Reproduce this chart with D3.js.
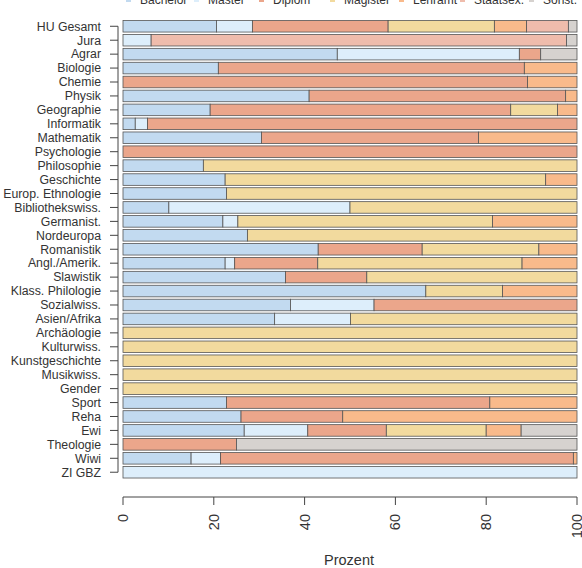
<!DOCTYPE html>
<html><head><meta charset="utf-8">
<script src="https://cdn.jsdelivr.net/npm/d3@7"></script>
<style>body{margin:0;background:#fff}svg{display:block}text{font-family:"Liberation Sans",Arial,sans-serif}</style>
</head><body><svg id="c" width="582" height="568"></svg>
<script>
const categories = ["HU Gesamt","Jura","Agrar","Biologie","Chemie","Physik","Geographie","Informatik","Mathematik","Psychologie","Philosophie","Geschichte","Europ. Ethnologie","Bibliothekswiss.","Germanist.","Nordeuropa","Romanistik","Angl./Amerik.","Slawistik","Klass. Philologie","Sozialwiss.","Asien/Afrika","Archäologie","Kulturwiss.","Kunstgeschichte","Musikwiss.","Gender","Sport","Reha","Ewi","Theologie","Wiwi","ZI GBZ"];
const seriesNames = ["Bachelor","Master","Diplom","Magister","Lehramt","Staatsex.","Sonst."];
const colors = ["#c2daf0","#ddeefb","#eba68b","#f2da9e","#f9ba8b","#efbcac","#d6d2cf"];
const bachelor = [20.6,0,47.2,21.0,0,41.0,19.2,2.7,30.5,0,17.7,22.5,22.8,10.1,22.0,27.4,43.0,22.5,35.8,66.7,36.9,33.4,0,0,0,0,0,22.8,26.0,26.7,0,15.0,0];
const master =   [7.9,6.2,40.1,0,0,0,0,2.7,0,0,0,0,0,39.9,3.3,0,0,2.1,0,0,18.4,16.7,0,0,0,0,0,0,0,14.0,0,6.5,100];
const diplom =   [29.9,0,4.7,67.4,89.1,56.5,66.2,94.6,47.8,100,0,0,0,0,0,0,22.9,18.3,17.9,0,44.7,0,0,0,0,0,0,58.0,22.4,17.3,25.0,77.7,0];
const magister = [23.4,0,0,0,0,0,10.3,0,0,0,82.3,70.6,77.2,50.0,56.1,72.6,25.7,45.0,46.3,16.9,0,49.9,100,100,100,100,100,0,0,22.0,0,0,0];
const lehramt =  [7.1,0,0,11.6,10.9,2.5,4.3,0,21.7,0,0,6.9,0,0,18.6,0,8.4,12.1,0,16.4,0,0,0,0,0,0,0,19.2,51.6,7.7,0,0.8,0];
const staatsex = [9.2,91.5,0,0,0,0,0,0,0,0,0,0,0,0,0,0,0,0,0,0,0,0,0,0,0,0,0,0,0,0,0,0,0];
const sonst =    [1.9,2.3,8.0,0,0,0,0,0,0,0,0,0,0,0,0,0,0,0,0,0,0,0,0,0,0,0,0,0,0,12.3,75.0,0,0];
const xTicks = [0,20,40,60,80,100];

const seriesValues = [bachelor,master,diplom,magister,lehramt,staatsex,sonst];
const rows = categories.map((c,i)=>{const o={cat:c};seriesNames.forEach((s,j)=>o[s]=seriesValues[j][i]);return o;});
const stack = d3.stack().keys(seriesNames)(rows);

const svg = d3.select("#c");
const x = d3.scaleLinear().domain([0,100]).range([123,577]);
const y = d3.scaleBand().domain(categories).range([19.3,479.2]).paddingInner(0.17).paddingOuter(0.085);
const txt = "#333";

svg.append("g").selectAll("g").data(stack).join("g").attr("fill",(d,i)=>colors[i])
  .selectAll("rect").data(d=>d.filter(p=>p[1]-p[0]>0)).join("rect")
  .attr("x",d=>x(d[0])).attr("width",d=>x(d[1])-x(d[0]))
  .attr("y",d=>y(d.data.cat)).attr("height",y.bandwidth())
  .attr("stroke","#555").attr("stroke-width",0.8);

// y axis
const yc = c=>y(c)+y.bandwidth()/2;
const ya = svg.append("g");
ya.append("line").attr("x1",118).attr("x2",118).attr("y1",yc(categories[0])).attr("y2",yc(categories[categories.length-1])).attr("stroke","#444");
ya.selectAll("line.t").data(categories).join("line").attr("class","t").attr("x1",110).attr("x2",118).attr("y1",yc).attr("y2",yc).attr("stroke","#444");
ya.selectAll("text").data(categories).join("text").attr("x",101).attr("y",yc).attr("dy","0.35em")
  .attr("text-anchor","end").attr("font-size",12.3).attr("fill",txt).text(d=>d);

// x axis
const xa = svg.append("g");
xa.append("line").attr("x1",x(0)).attr("x2",x(100)).attr("y1",497).attr("y2",497).attr("stroke","#444");
xa.selectAll("line.t").data(xTicks).join("line").attr("class","t").attr("x1",x).attr("x2",x).attr("y1",497).attr("y2",505).attr("stroke","#444");
xa.selectAll("text").data(xTicks).join("text")
  .attr("transform",d=>`translate(${x(d)},514) rotate(-90)`).attr("dy","0.35em")
  .attr("text-anchor","end").attr("font-size",14.5).attr("fill",txt).text(d=>d);
svg.append("text").attr("x",349).attr("y",565).attr("text-anchor","middle").attr("font-size",14.5).attr("fill",txt).text("Prozent");

// legend
const legX = [126,194,259,330,399,460,529];
const lg = svg.append("g").selectAll("g").data(seriesNames).join("g").attr("transform",(d,i)=>`translate(${legX[i]},0)`);
lg.append("rect").attr("x",0).attr("y",-3).attr("width",5).attr("height",5).attr("fill",(d,i)=>colors[i]);
lg.append("text").attr("x",14).attr("y",4).attr("font-size",12).attr("fill",txt).text(d=>d);
</script></body></html>
